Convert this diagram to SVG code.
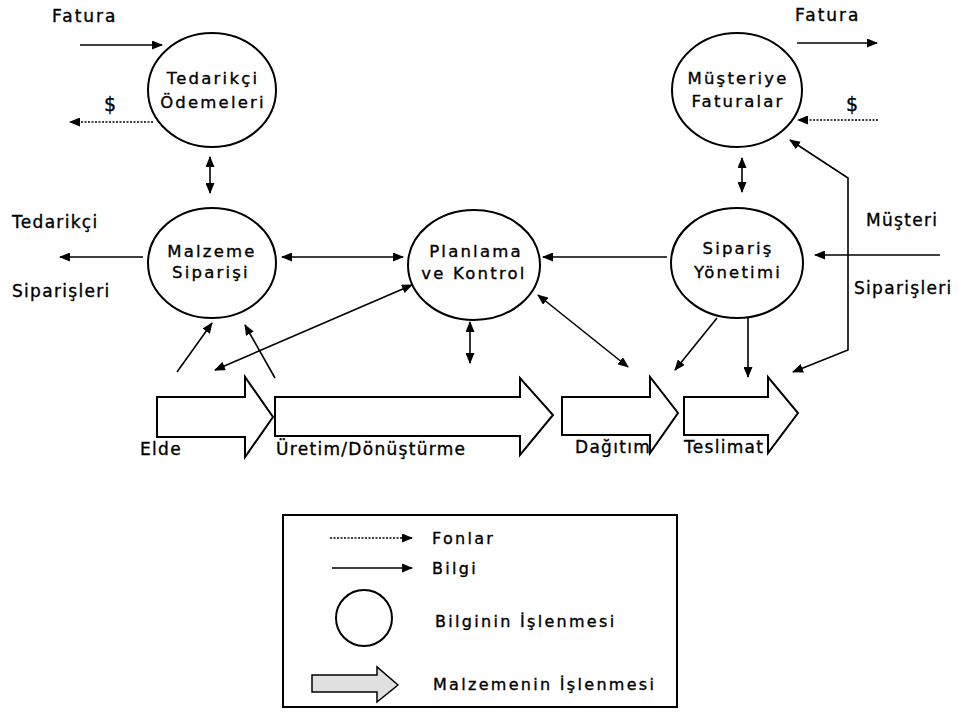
<svg xmlns="http://www.w3.org/2000/svg" width="965" height="713" viewBox="0 0 965 713">
<style>
text{font-family:"DejaVu Sans","Liberation Sans",sans-serif;fill:#000;stroke:#000;stroke-width:0.35}
.lbl{font-size:17px;letter-spacing:1.3px}
.leg{font-size:16px;letter-spacing:2.3px}
.ct{font-size:16.5px;letter-spacing:2.2px;text-anchor:middle}
.node{fill:#fff;stroke:#000;stroke-width:2}
.blk{fill:#fff;stroke:#000;stroke-width:2;stroke-linejoin:miter}
.info{fill:none;stroke:#000;stroke-width:1.6}
.fund{fill:none;stroke:#000;stroke-width:1.4;stroke-dasharray:2 1.5}
</style>
<defs>
<marker id="ah" markerUnits="userSpaceOnUse" markerWidth="11" markerHeight="9" refX="10" refY="4.5" orient="auto-start-reverse" viewBox="0 0 11 9">
<path d="M0,0 L11,4.5 L0,9 z" fill="#000"/>
</marker>
</defs>
<rect width="965" height="713" fill="#fff"/>

<g id="connectors">
<line class="info" x1="80" y1="45" x2="162" y2="45" marker-end="url(#ah)"/>
<line class="fund" x1="153" y1="122" x2="70" y2="122" marker-end="url(#ah)"/>
<line class="info" x1="210" y1="157" x2="210" y2="193" marker-start="url(#ah)" marker-end="url(#ah)"/>
<line class="info" x1="797" y1="43" x2="877" y2="43" marker-end="url(#ah)"/>
<line class="fund" x1="878" y1="120" x2="798" y2="120" marker-end="url(#ah)"/>
<line class="info" x1="742" y1="158" x2="742" y2="192" marker-start="url(#ah)" marker-end="url(#ah)"/>
<line class="info" x1="940" y1="255" x2="815" y2="255" marker-end="url(#ah)"/>
<polyline class="info" points="793,372 848,350 848,178 790,140" marker-start="url(#ah)" marker-end="url(#ah)"/>
<line class="info" x1="667" y1="257" x2="543" y2="257" marker-end="url(#ah)"/>
<line class="info" x1="538" y1="295" x2="628" y2="367" marker-start="url(#ah)" marker-end="url(#ah)"/>
<line class="info" x1="717" y1="318" x2="675" y2="370" marker-end="url(#ah)"/>
<line class="info" x1="748" y1="315" x2="748" y2="377" marker-end="url(#ah)"/>
<line class="info" x1="143" y1="257" x2="60" y2="257" marker-end="url(#ah)"/>
<line class="info" x1="282" y1="257" x2="403" y2="257" marker-start="url(#ah)" marker-end="url(#ah)"/>
<line class="info" x1="412" y1="285" x2="215" y2="370" marker-start="url(#ah)" marker-end="url(#ah)"/>
<line class="info" x1="177" y1="372" x2="212" y2="323" marker-end="url(#ah)"/>
<line class="info" x1="275" y1="378" x2="245" y2="325" marker-end="url(#ah)"/>
<line class="info" x1="470" y1="322" x2="470" y2="363" marker-start="url(#ah)" marker-end="url(#ah)"/>
</g>

<g id="tedarikci-odemeleri">
<ellipse class="node" cx="212" cy="90" rx="64" ry="57"/>
<text class="ct" x="213" y="84">Tedarikçi</text>
<text class="ct" x="213" y="108">Ödemeleri</text>
</g>
<g id="musteriye-faturalar">
<ellipse class="node" cx="737" cy="90" rx="65" ry="57"/>
<text class="ct" x="738" y="84">Müşteriye</text>
<text class="ct" x="738" y="107">Faturalar</text>
</g>
<g id="malzeme-siparisi">
<ellipse class="node" cx="212" cy="263" rx="64" ry="55"/>
<text class="ct" x="212" y="257">Malzeme</text>
<text class="ct" x="211" y="278">Siparişi</text>
</g>
<g id="planlama-kontrol">
<ellipse class="node" cx="474" cy="265" rx="66" ry="55"/>
<text class="ct" x="476" y="257">Planlama</text>
<text class="ct" x="474" y="279">ve Kontrol</text>
</g>
<g id="siparis-yonetimi">
<ellipse class="node" cx="737" cy="263" rx="66" ry="55"/>
<text class="ct" x="738" y="254">Sipariş</text>
<text class="ct" x="738" y="278">Yönetimi</text>
</g>

<g id="elde">
<polygon class="blk" points="157,397 245,397 245,377 273,417 245,457 245,437 157,437"/>
<text class="lbl" x="140" y="455">Elde</text>
</g>
<g id="uretim">
<polygon class="blk" points="275,397 520,397 520,378 553,415 520,455 520,436 275,436"/>
<text class="lbl" x="276" y="455">Üretim/Dönüştürme</text>
</g>
<g id="dagitim">
<polygon class="blk" points="562,397 650,397 650,377 678,413 650,453 650,435 562,435"/>
<text class="lbl" x="575" y="453">Dağıtım</text>
</g>
<g id="teslimat">
<polygon class="blk" points="684,397 768,397 768,377 798,413 768,453 768,435 684,435"/>
<text class="lbl" x="684" y="453">Teslimat</text>
</g>

<g id="labels">
<text class="lbl" x="52" y="22" style="letter-spacing:2px">Fatura</text>
<text class="lbl" x="104" y="111" style="font-size:19px">$</text>
<text class="lbl" x="795" y="21" style="letter-spacing:2px">Fatura</text>
<text class="lbl" x="846" y="111" style="font-size:19px">$</text>
<text class="lbl" x="12" y="228">Tedarikçi</text>
<text class="lbl" x="12" y="297">Siparişleri</text>
<text class="lbl" x="866" y="226">Müşteri</text>
<text class="lbl" x="854" y="294">Siparişleri</text>
</g>

<g id="legend">
<rect x="283" y="515" width="394" height="192" fill="none" stroke="#000" stroke-width="2"/>
<line class="fund" x1="330" y1="538" x2="412" y2="538" marker-end="url(#ah)"/>
<text class="leg" x="432" y="544">Fonlar</text>
<line class="info" x1="332" y1="568" x2="412" y2="568" marker-end="url(#ah)"/>
<text class="leg" x="432" y="574">Bilgi</text>
<circle class="node" cx="364" cy="618" r="28"/>
<text class="leg" x="435" y="627">Bilginin İşlenmesi</text>
<polygon points="312,675 377,675 377,667 398,685 377,702 377,692 312,692" fill="#e0e0e0" stroke="#000" stroke-width="1.5"/>
<text class="leg" x="433" y="690">Malzemenin İşlenmesi</text>
</g>
</svg>
